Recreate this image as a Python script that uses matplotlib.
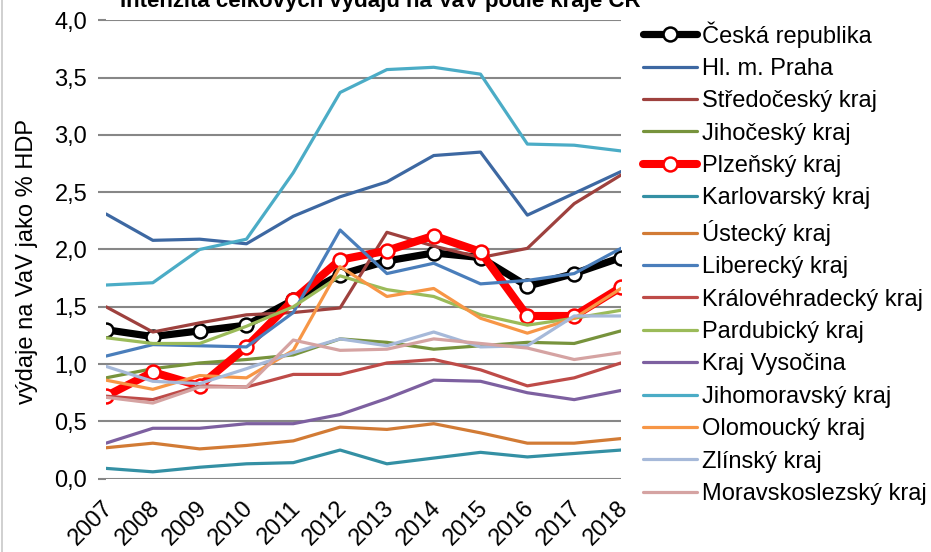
import matplotlib
matplotlib.use("Agg")
import matplotlib.pyplot as plt
import matplotlib.transforms as mtrans
from matplotlib.lines import Line2D
from matplotlib.ticker import FixedLocator, MultipleLocator, FuncFormatter

plt.rcParams['font.family'] = ['Liberation Sans', 'DejaVu Sans']

years = list(range(2007, 2019))
title = "Intenzita celkových výdajů na VaV podle kraje ČR"
ylabel = "výdaje na VaV jako % HDP"

names = ["Česká republika", "Hl. m. Praha", "Středočeský kraj", "Jihočeský kraj",
         "Plzeňský kraj", "Karlovarský kraj", "Ústecký kraj", "Liberecký kraj",
         "Královéhradecký kraj", "Pardubický kraj", "Kraj Vysočina",
         "Jihomoravský kraj", "Olomoucký kraj", "Zlínský kraj", "Moravskoslezský kraj"]

cr = [1.30, 1.24, 1.29, 1.34, 1.56, 1.78, 1.90, 1.97, 1.93, 1.68, 1.79, 1.93]
praha = [2.31, 2.08, 2.09, 2.05, 2.29, 2.46, 2.59, 2.82, 2.85, 2.30, 2.49, 2.68]
stredocesky = [1.50, 1.28, 1.36, 1.43, 1.45, 1.49, 2.15, 2.03, 1.93, 2.01, 2.40, 2.65]
jihocesky = [0.88, 0.96, 1.01, 1.04, 1.08, 1.22, 1.19, 1.13, 1.16, 1.19, 1.18, 1.29]
plzensky = [0.72, 0.93, 0.81, 1.15, 1.56, 1.91, 1.99, 2.12, 1.98, 1.42, 1.42, 1.67]
karlovarsky = [0.09, 0.06, 0.10, 0.13, 0.14, 0.25, 0.13, 0.18, 0.23, 0.19, 0.22, 0.25]
ustecky = [0.27, 0.31, 0.26, 0.29, 0.33, 0.45, 0.43, 0.48, 0.40, 0.31, 0.31, 0.35]
liberecky = [1.07, 1.17, 1.16, 1.15, 1.45, 2.17, 1.79, 1.88, 1.70, 1.73, 1.79, 2.01]
kralovehradecky = [0.72, 0.69, 0.81, 0.80, 0.91, 0.91, 1.01, 1.04, 0.95, 0.81, 0.88, 1.01]
pardubicky = [1.23, 1.18, 1.18, 1.33, 1.50, 1.77, 1.65, 1.59, 1.43, 1.34, 1.40, 1.47]
vysocina = [0.31, 0.44, 0.44, 0.48, 0.48, 0.56, 0.70, 0.86, 0.85, 0.75, 0.69, 0.77]
jihomoravsky = [1.69, 1.71, 2.00, 2.09, 2.67, 3.37, 3.57, 3.59, 3.53, 2.92, 2.91, 2.86]
olomoucky = [0.86, 0.78, 0.90, 0.88, 1.12, 1.85, 1.59, 1.66, 1.40, 1.27, 1.40, 1.66]
zlinsky = [0.98, 0.85, 0.83, 0.96, 1.10, 1.22, 1.16, 1.28, 1.15, 1.16, 1.42, 1.42]
moravskoslezsky = [0.71, 0.66, 0.80, 0.80, 1.21, 1.12, 1.13, 1.22, 1.18, 1.14, 1.04, 1.10]

series = [cr, praha, stredocesky, jihocesky, plzensky, karlovarsky, ustecky, liberecky,
          kralovehradecky, pardubicky, vysocina, jihomoravsky, olomoucky, zlinsky,
          moravskoslezsky]

colors = ['#000000', '#3D68A2', '#9E413E', '#77933C', '#FF0000', '#3490A4', '#D27B35',
          '#4A7EBB', '#BE4B48', '#9BBB59', '#7D60A0', '#4BACC6', '#F79646', '#A6B9D9',
          '#D5A3A2']

W, H = 931, 552
FS = 17
fig = plt.figure(figsize=(W / 100, H / 100), dpi=100)
ax = fig.add_axes([106 / W, 1 - 478.7 / H, (621 - 106) / W, (478.7 - 20.3) / H])

# chart-area border at the left edge
fig.add_artist(Line2D([2 / W, 2 / W], [0, 1], transform=fig.transFigure,
                      color='#c8c8c8', lw=1.2))

grid_c = '#878787'
for i, (name, vals, col) in enumerate(zip(names, series, colors)):
    if i in (0, 4):
        ax.plot(years, vals, color=col, lw=5.2 if i == 0 else 5.8, marker='o', ms=10,
                mfc='white', mec=col, mew=1.8, label=name, zorder=3 + i,
                solid_capstyle='round', solid_joinstyle='round')
    else:
        ax.plot(years, vals, color=col, lw=2.3, label=name, zorder=3 + i,
                solid_capstyle='round', solid_joinstyle='round')

ax.set_xlim(2007, 2018)
ax.set_ylim(0, 4)
for s in ax.spines.values():
    s.set_visible(False)

ax.yaxis.set_major_locator(MultipleLocator(0.5))
ax.yaxis.set_major_formatter(FuncFormatter(lambda v, p: f"{v:.1f}".replace('.', ',')))
ax.xaxis.set_major_locator(FixedLocator(years))
ax.xaxis.set_minor_locator(FixedLocator([2007, 2010, 2013, 2016]))
ax.grid(axis='y', which='major', color=grid_c, lw=1.5)
ax.grid(axis='x', which='minor', color=grid_c, lw=1.5)
ax.set_axisbelow(True)
ax.tick_params(axis='y', which='major', length=5.5, width=1.5, color=grid_c,
               labelsize=FS, pad=8)
ax.tick_params(axis='x', which='major', length=0, labelsize=FS, pad=13)
ax.tick_params(axis='x', which='minor', length=6, width=1.5, color=grid_c)
off = mtrans.ScaledTranslation(-4 / 100, 0, fig.dpi_scale_trans)
for lab in ax.get_xticklabels():
    lab.set_rotation(45)
    lab.set_ha('right')
    lab.set_va('top')
    lab.set_rotation_mode('anchor')
    lab.set_transform(lab.get_transform() + off)

ax.set_ylabel(ylabel, fontsize=FS)
ax.yaxis.set_label_coords((38 - 106) / 515, (478.7 - 262) / 458.4)

fig.text(380 / W, 1 - 7.5 / H, title, ha='center', va='baseline',
         fontsize=16, fontweight='bold')

leg = fig.legend(loc='upper left', bbox_to_anchor=(643 / W, 1 - 21 / H),
                 frameon=False, fontsize=FS, handlelength=2.3, handletextpad=0.22,
                 labelspacing=0.44, borderpad=0, borderaxespad=0)

fig.savefig('out.png', dpi=100)
